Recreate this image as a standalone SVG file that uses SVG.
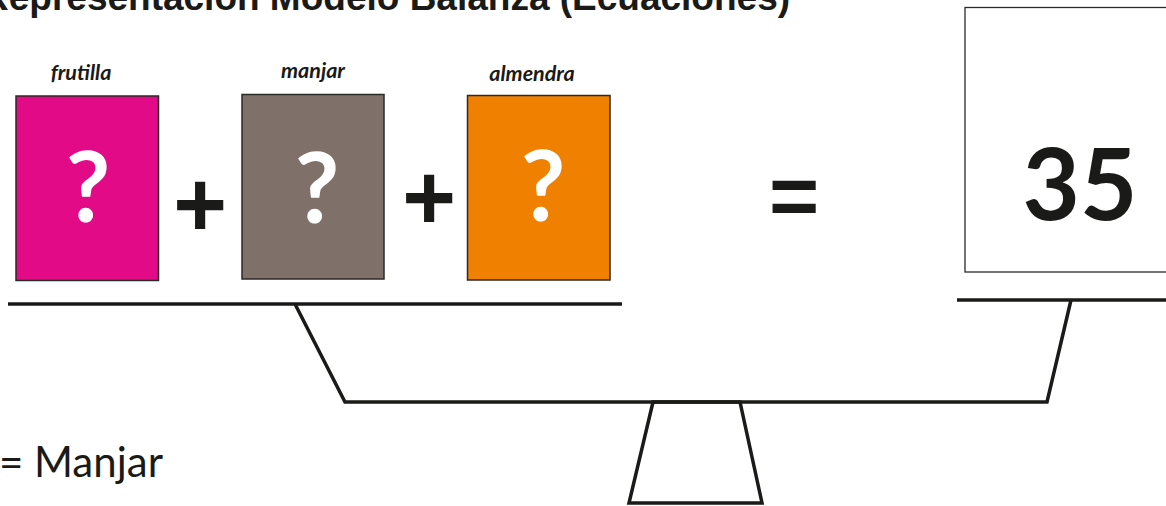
<svg xmlns="http://www.w3.org/2000/svg" width="1166" height="506" viewBox="0 0 1166 506">
<style>
.title{font-family:"Liberation Sans",Arial,sans-serif;font-weight:bold;font-size:37px;fill:#1a1a18}
.lbl{font-family:Lato,"Liberation Sans",sans-serif;font-weight:bold;font-style:italic;font-size:21.5px;fill:#1a1a18;text-anchor:middle}
.q{font-family:Lato,"Liberation Sans",sans-serif;font-weight:bold;font-size:97px;fill:#ffffff;text-anchor:middle}
.op{font-family:"Liberation Sans",Arial,sans-serif;font-weight:bold;fill:#1a1a18;text-anchor:middle}
.num{font-family:Lato,"Liberation Sans",sans-serif;font-weight:bold;font-size:99px;fill:#1a1a18;text-anchor:middle}
.box{stroke:#2a2a28;stroke-width:1.5}
.bar{stroke:#1a1a18;stroke-width:3.5;fill:none;stroke-linejoin:miter}
.leg{font-family:Lato,"Liberation Sans",sans-serif;font-size:42px;fill:#1a1a18}
</style>
<rect width="1166" height="506" fill="#ffffff"/>
<text class="title" x="-18" y="10">Representación Modelo Balanza (Ecuaciones)</text>

<g id="frutilla">
<text class="lbl" x="81" y="80">frutilla</text>
<rect class="box" x="16" y="96" width="142.5" height="184.5" fill="#E20A87"/>
<text class="q" x="88" y="222">?</text>
</g>
<g id="plus1"><text class="op" x="200" y="236" font-size="92">+</text></g>
<g id="manjar">
<text class="lbl" x="313" y="77.5">manjar</text>
<rect class="box" x="242" y="94.5" width="142" height="184.5" fill="#7F7169"/>
<text class="q" x="317" y="223">?</text>
</g>
<g id="plus2"><text class="op" x="429" y="229" font-size="92">+</text></g>
<g id="almendra">
<text class="lbl" x="532" y="81">almendra</text>
<rect class="box" x="467.5" y="95.5" width="142.5" height="184.5" fill="#F08000"/>
<text class="q" x="543" y="221">?</text>
</g>
<g id="equals"><text class="op" x="794" y="225" font-size="86">=</text></g>
<g id="resultado">
<rect x="965" y="7.5" width="240" height="264.5" fill="#ffffff" stroke="#2a2a28" stroke-width="1.3"/>
<text class="num" x="1080" y="220">35</text>
</g>

<g id="balanza">
<line class="bar" x1="8" y1="304" x2="622" y2="304"/>
<line class="bar" x1="957" y1="300" x2="1166" y2="300"/>
<polyline class="bar" points="295,304 345,402 1047,402 1071,300"/>
<polygon class="bar" points="653,402 740,402 762,503 629,503"/>
</g>

<text class="leg" x="-1" y="477">= <tspan x="34">Manjar</tspan></text>
</svg>
